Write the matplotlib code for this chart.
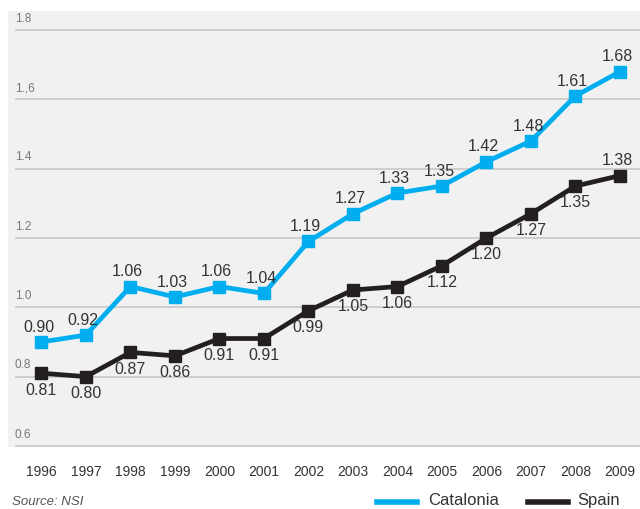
import matplotlib
matplotlib.use("Agg")
import matplotlib.pyplot as plt
from matplotlib.transforms import blended_transform_factory

years = [1996, 1997, 1998, 1999, 2000, 2001, 2002, 2003, 2004, 2005, 2006, 2007, 2008, 2009]
catalonia = [0.90, 0.92, 1.06, 1.03, 1.06, 1.04, 1.19, 1.27, 1.33, 1.35, 1.42, 1.48, 1.61, 1.68]
spain = [0.81, 0.80, 0.87, 0.86, 0.91, 0.91, 0.99, 1.05, 1.06, 1.12, 1.20, 1.27, 1.35, 1.38]
y_ticks = [0.6, 0.8, 1.0, 1.2, 1.4, 1.6, 1.8]
y_tick_labels = ["0.6", "0.8", "1.0", "1.2", "1.4", "1.,6", "1.8"]
series_names = ["Catalonia", "Spain"]
source_text = "Source: NSI"

plt.rcParams['font.family'] = ['Liberation Sans', 'DejaVu Sans']

BLUE = "#00aeef"
DARK = "#231f20"
TXT = "#333333"

fig = plt.figure(figsize=(6.4, 5.1), dpi=100)
ax = fig.add_axes([8/640, 1 - 448/510, 1 - 8/640, (448 - 12)/510])
ax.set_facecolor("#f1f1f1")
for s in ax.spines.values():
    s.set_visible(False)
ax.set_xlim(1995.25, 2009.45)
ax.set_ylim(0.597, 1.855)
ax.set_xticks([])
ax.set_yticks([])

trans = blended_transform_factory(ax.transAxes, ax.transData)
x0 = 8/632
for yv, lab in zip(y_ticks, y_tick_labels):
    ax.plot([x0, 1], [yv, yv], transform=trans, color="#c8c8c8", lw=1.2, zorder=1, clip_on=False)
    ax.text(x0 - 0.002, yv + 0.018, lab, transform=trans, fontsize=8.5, color="#777777",
            ha="left", va="bottom")

ax.plot(years, catalonia, color=BLUE, lw=3.4, marker="s", markersize=8, zorder=3,
        label=series_names[0])
ax.plot(years, spain, color=DARK, lw=3.4, marker="s", markersize=8, zorder=3,
        label=series_names[1])

for x, v in zip(years, catalonia):
    ax.annotate(f"{v:.2f}", (x, v), xytext=(-2, 6), textcoords="offset points",
                ha="center", va="bottom", fontsize=11.5, color=TXT)
for i, (x, v) in enumerate(zip(years, spain)):
    if i == len(years) - 1:
        ax.annotate(f"{v:.2f}", (x, v), xytext=(-2, 6), textcoords="offset points",
                    ha="center", va="bottom", fontsize=11.5, color=TXT)
    else:
        ax.annotate(f"{v:.2f}", (x, v), xytext=(0, -6), textcoords="offset points",
                    ha="center", va="top", fontsize=11.5, color=TXT)

# year labels
for x in years:
    ax.text(x, -24/436, str(x), transform=blended_transform_factory(ax.transData, ax.transAxes),
            ha="center", va="center", fontsize=10, color=TXT)

fig.text(12/640, 1 - 502/510, source_text, fontsize=9.5, style="italic", color="#555555",
         ha="left", va="center")

# legend
fy = 1 - 503/510
fig.add_artist(plt.Line2D([377/640, 417/640], [fy, fy], color=BLUE, lw=4, transform=fig.transFigure))
fig.text(428/640, fy + 0.004, series_names[0], fontsize=12, color=TXT, ha="left", va="center")
fig.add_artist(plt.Line2D([528/640, 568/640], [fy, fy], color=DARK, lw=4, transform=fig.transFigure))
fig.text(577/640, fy + 0.004, series_names[1], fontsize=12, color=TXT, ha="left", va="center")

fig.savefig("out.png", dpi=100, facecolor="white")
